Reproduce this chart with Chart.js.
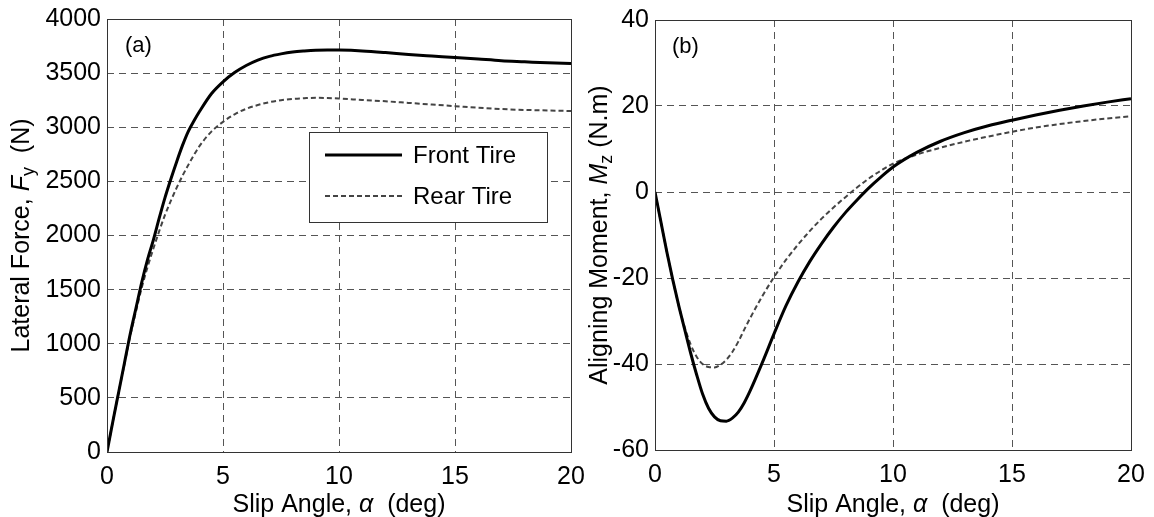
<!DOCTYPE html>
<html>
<head>
<meta charset="utf-8">
<title>Tire forces vs slip angle</title>
<script src="https://cdn.jsdelivr.net/npm/chart.js@4"></script>
<style>
  html, body { margin: 0; padding: 0; background: #fff; }
  #wrap { position: relative; width: 1154px; height: 517px; overflow: hidden; }
  .panel { position: absolute; top: 0; height: 517px; }
</style>
</head>
<body>
<div id="wrap">
  <div class="panel" style="left:0;width:620px"><canvas id="fyChart" width="620" height="517"></canvas></div>
  <div class="panel" style="left:577px;width:577px"><canvas id="mzChart" width="577" height="517"></canvas></div>
</div>
<script>
// slip angle samples (deg), shared by all four curves
const slipAngle = [0, 0.25, 0.5, 0.75, 1, 1.25, 1.5, 1.75, 2, 2.25, 2.5, 2.75, 3, 3.25, 3.5, 3.75, 4, 4.5, 5, 5.5,
    6, 6.5, 7, 7.5, 8, 8.5, 9, 9.5, 10, 11, 12, 13, 14, 15, 16, 17, 18, 19, 20];

// lateral force Fy (N)
const fyFront = [0, 280, 550, 820, 1090, 1330, 1570, 1780, 1960, 2160, 2350, 2520, 2680, 2830, 2960, 3060, 3150, 3310, 3420, 3505,
    3570, 3620, 3655, 3678, 3695, 3705, 3712, 3714, 3713, 3705, 3690, 3672, 3658, 3645, 3630, 3615, 3605, 3595, 3588];
const fyRear = [0, 280, 550, 810, 1070, 1300, 1520, 1710, 1880, 2040, 2190, 2320, 2440, 2550, 2650, 2745, 2830, 2960, 3050, 3120,
    3170, 3205, 3232, 3250, 3262, 3268, 3272, 3270, 3265, 3252, 3240, 3225, 3210, 3195, 3180, 3168, 3160, 3155, 3150];

// aligning moment Mz (N.m)
const mzFront = [0, -7, -14, -20.5, -26.5, -32, -37.5, -42.5, -47, -50.3, -52.3, -53.2, -53.3, -52.6, -51.2, -49, -46.2, -39.8, -33, -26.5,
    -21, -16.2, -12, -8.2, -4.8, -1.8, 1, 3.5, 5.8, 9.2, 11.8, 13.8, 15.4, 16.7, 17.9, 19, 20, 20.9, 21.7];
const mzRear = [0, -7, -14, -20.5, -26.5, -31.5, -35.5, -38.3, -40, -40.7, -40.8, -40.2, -39, -37.2, -34.8, -32, -29.3, -24.3, -19.8, -15.8,
    -12.3, -9.1, -6.2, -3.6, -1.2, 1.1, 3.2, 5, 6.6, 8.7, 10.3, 11.7, 12.9, 14, 15, 15.8, 16.5, 17.1, 17.6];

const xTicks = [0, 5, 10, 15, 20];
const fyTicks = [0, 500, 1000, 1500, 2000, 2500, 3000, 3500, 4000];
const mzTicks = [-60, -40, -20, 0, 20, 40];

const FONT = '"Liberation Sans", Arial, Helvetica, sans-serif';
Chart.defaults.font.family = FONT;
Chart.defaults.color = '#000';

function toPoints(ys) {
    return slipAngle.map((a, i) => ({ x: a, y: ys[i] }));
}

// draws a run of text pieces (plain / italic / subscript) centred at cx,cy
function drawRich(ctx, parts, cx, cy) {
    const fontOf = p => (p.italic ? 'italic ' : '') + (p.sub ? 18 : 25) + 'px ' + FONT;
    let total = 0;
    parts.forEach(p => { ctx.font = fontOf(p); total += ctx.measureText(p.text).width; });
    let x = cx - total / 2;
    ctx.textAlign = 'left';
    ctx.textBaseline = 'middle';
    parts.forEach(p => {
        ctx.font = fontOf(p);
        ctx.fillText(p.text, x, cy + (p.sub ? 7 : 0));
        x += ctx.measureText(p.text).width;
    });
}

// box, panel tag, axis titles and the legend box
const figureDecor = {
    id: 'figureDecor',
    afterDraw(chart, args, opts) {
        const ctx = chart.ctx;
        const a = chart.chartArea;
        ctx.save();
        ctx.fillStyle = '#000';
        ctx.setLineDash([]);
        ctx.strokeStyle = '#333';
        ctx.lineWidth = 1;
        ctx.strokeRect(Math.round(a.left) + 0.5, Math.round(a.top) + 0.5, Math.round(a.width), Math.round(a.height));

        ctx.font = '22px ' + FONT;
        ctx.textAlign = 'left';
        ctx.textBaseline = 'middle';
        ctx.fillText(opts.tag, a.left + opts.tagDx, a.top + 27);

        drawRich(ctx, opts.xTitle, (a.left + a.right) / 2, opts.xTitleY);

        ctx.save();
        ctx.translate(opts.yTitleX, (a.top + a.bottom) / 2);
        ctx.rotate(-Math.PI / 2);
        drawRich(ctx, opts.yTitle, 0, 0);
        ctx.restore();

        if (opts.legend) {
            const L = opts.legend;
            ctx.fillStyle = '#fff';
            ctx.fillRect(L.x, L.y, L.w, L.h);
            ctx.strokeStyle = '#333';
            ctx.lineWidth = 1;
            ctx.strokeRect(L.x + 0.5, L.y + 0.5, L.w, L.h);
            chart.data.datasets.forEach((ds, i) => {
                const y = L.y + L.rowTop + i * L.rowGap;
                ctx.strokeStyle = ds.borderColor;
                ctx.lineWidth = ds.borderWidth;
                ctx.setLineDash(ds.borderDash || []);
                ctx.beginPath();
                ctx.moveTo(L.x + 16, y);
                ctx.lineTo(L.x + 93, y);
                ctx.stroke();
                ctx.setLineDash([]);
                ctx.fillStyle = '#000';
                ctx.font = '24px ' + FONT;
                ctx.textBaseline = 'middle';
                ctx.fillText(ds.label, L.x + 104, y + 1);
            });
        }
        ctx.restore();
    }
};

function makeOptions(yMin, yMax, yStep, yWidth, padTop, padRight, xAxisH, decor) {
    const grid = { color: '#555', lineWidth: 1, drawTicks: false };
    return {
        responsive: false,
        animation: false,
        layout: { padding: { top: padTop, right: padRight, left: 0, bottom: 0 } },
        elements: { point: { radius: 0 }, line: { cubicInterpolationMode: 'monotone' } },
        plugins: { legend: { display: false }, tooltip: { enabled: false }, figureDecor: decor },
        scales: {
            x: {
                type: 'linear', min: 0, max: 20,
                afterFit: s => { s.height = xAxisH; s.paddingLeft = 0; s.paddingRight = 0; },
                afterBuildTicks: s => { s.ticks = xTicks.map(v => ({ value: v })); },
                ticks: { font: { size: 25 }, padding: 10, maxRotation: 0, callback: v => String(v) },
                grid: grid,
                border: { display: false, dash: [7, 5] }
            },
            y: {
                type: 'linear', min: yMin, max: yMax,
                afterFit: s => { s.width = yWidth; s.paddingTop = 0; s.paddingBottom = 0; },
                ticks: { font: { size: 25 }, padding: 6, stepSize: yStep, callback: v => String(v) },
                grid: grid,
                border: { display: false, dash: [7, 5] }
            }
        }
    };
}

const frontStyle = { borderColor: '#000', borderWidth: 3 };
const rearStyle = { borderColor: '#444', borderWidth: 2, borderDash: [5, 3] };

new Chart(document.getElementById('fyChart'), {
    type: 'line',
    data: {
        datasets: [
            Object.assign({ label: 'Front Tire', data: toPoints(fyFront) }, frontStyle),
            Object.assign({ label: 'Rear Tire', data: toPoints(fyRear) }, rearStyle)
        ]
    },
    options: makeOptions(fyTicks[0], fyTicks[fyTicks.length - 1], 500, 107, 19, 49, 65, {
        tag: '(a)', tagDx: 18,
        xTitleY: 505,
        xTitle: [{ text: 'Slip Angle, ' }, { text: 'α', italic: true }, { text: '  (deg)' }],
        yTitleX: 22,
        yTitle: [{ text: 'Lateral Force, ' }, { text: 'F', italic: true }, { text: 'y', sub: true }, { text: '  (N)' }],
        legend: { x: 309, y: 132, w: 238, h: 90, rowTop: 23, rowGap: 41 }
    }),
    plugins: [figureDecor]
});

new Chart(document.getElementById('mzChart'), {
    type: 'line',
    data: {
        datasets: [
            Object.assign({ label: 'Front Tire', data: toPoints(mzFront) }, frontStyle),
            Object.assign({ label: 'Rear Tire', data: toPoints(mzRear) }, rearStyle)
        ]
    },
    options: makeOptions(mzTicks[0], mzTicks[mzTicks.length - 1], 20, 78, 20, 23, 67, {
        tag: '(b)', tagDx: 17,
        xTitleY: 505,
        xTitle: [{ text: 'Slip Angle, ' }, { text: 'α', italic: true }, { text: '  (deg)' }],
        yTitleX: 23,
        yTitle: [{ text: 'Aligning Moment, ' }, { text: 'M', italic: true }, { text: 'z', sub: true }, { text: ' (N.m)' }],
        legend: null
    }),
    plugins: [figureDecor]
});
</script>
</body>
</html>
